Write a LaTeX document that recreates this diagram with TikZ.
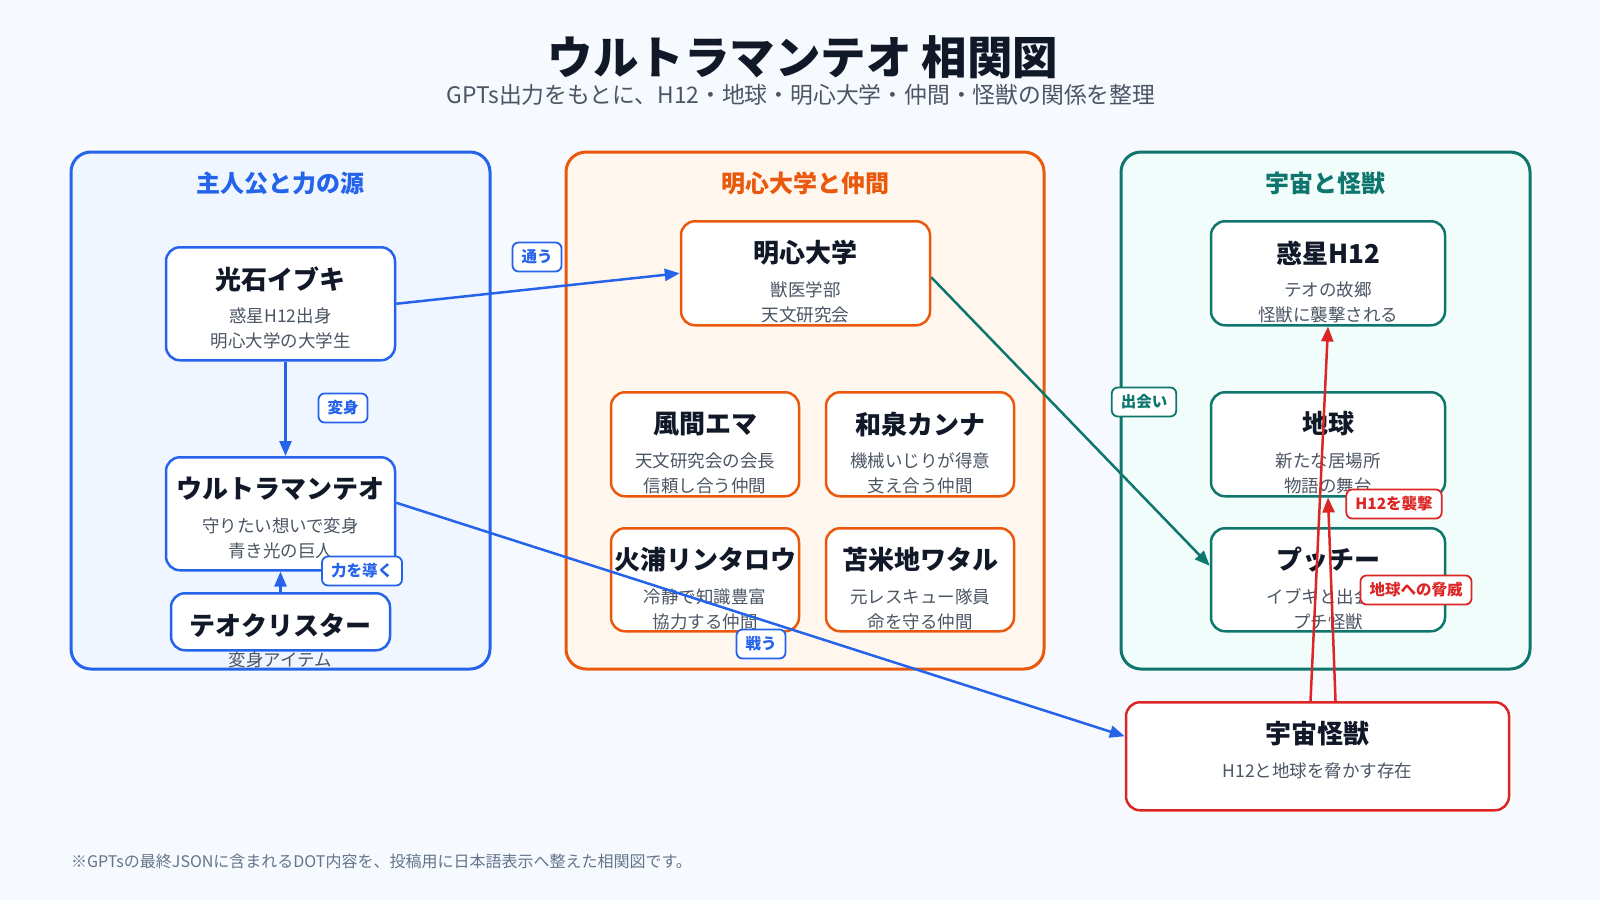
\documentclass[tikz,border=0pt]{standalone}
\usepackage{fontspec}
\setmainfont{Noto Sans CJK JP}
\usetikzlibrary{arrows.meta}
\definecolor{bgc}{HTML}{F6F9FD}
\definecolor{cblue}{HTML}{2563EB}
\definecolor{corange}{HTML}{EA580C}
\definecolor{cteal}{HTML}{0F766E}
\definecolor{cred}{HTML}{DC2626}
\definecolor{fblue}{HTML}{EFF6FF}
\definecolor{forange}{HTML}{FFF7ED}
\definecolor{fteal}{HTML}{F0FDFA}
\definecolor{tdark}{HTML}{111827}
\definecolor{tsub}{HTML}{4B5563}
\definecolor{tfoot}{HTML}{64748B}
\tikzset{
  clusterbox/.style={rounded corners=20pt, line width=3pt},
  ctitle/.style={font=\fontsize{24}{28}\selectfont\bfseries, inner sep=0pt},
  nbox/.style={rectangle, rounded corners=14pt, line width=2.5pt, fill=white, inner sep=0pt},
  ntitle/.style={font=\fontsize{26}{30}\selectfont\bfseries, text=tdark, inner sep=0pt},
  nsub/.style={font=\fontsize{17.5}{20}\selectfont, text=tsub, inner sep=0pt},
  edge/.style={line width=2.5pt, -{Triangle[length=15pt,width=12pt]}},
  elabel/.style={rectangle, rounded corners=6pt, line width=1.8pt, fill=white, font=\fontsize{15.5}{18}\selectfont\bfseries, inner xsep=9pt, minimum height=29pt, inner ysep=0pt},
}
% name, cx, top, w, h, colour, title, line1, line2
\newcommand{\charnode}[9]{%
  \node[nbox, draw=#6, minimum width=#4pt, minimum height=#5pt, anchor=north] (#1) at (#2,#3) {};
  \node[ntitle] (#1-t) at (#2,#3+33) {#7};
  \node[nsub] (#1-a) at (#2,#3+70) {#8};
  \node[nsub] (#1-b) at (#2,#3+95) {#9};
}
\begin{document}
\begin{tikzpicture}[x=1pt,y=-1pt]
\fill[bgc] (0,0) rectangle (1600,900);
\useasboundingbox (0,0) rectangle (1600,900);

\node[font=\fontsize{45.5}{50}\selectfont\bfseries, text=tdark, inner sep=0pt] (title) at (803,57) {ウルトラマンテオ 相関図};
\node[font=\fontsize{22.8}{26}\selectfont, text=tsub, inner sep=0pt] (subtitle) at (801,95) {GPTs出力をもとに、H12・地球・明心大学・仲間・怪獣の関係を整理};

% clusters
\draw[clusterbox, draw=cblue, fill=fblue] (71,152) rectangle (490,669);
\draw[clusterbox, draw=corange, fill=forange] (566,152) rectangle (1044,669);
\draw[clusterbox, draw=cteal, fill=fteal] (1121,152) rectangle (1530,669);
\node[ctitle, text=cblue] (c1) at (280.5,183) {主人公と力の源};
\node[ctitle, text=corange] (c2) at (805,183) {明心大学と仲間};
\node[ctitle, text=cteal] (c3) at (1325.5,183) {宇宙と怪獣};

% nodes
\charnode{ibuki}{280.5}{246}{229}{113}{cblue}{光石イブキ}{惑星H12出身}{明心大学の大学生}
\charnode{teo}{280.5}{456}{229}{113}{cblue}{ウルトラマンテオ}{守りたい想いで変身}{青き光の巨人}
\charnode{crystal}{280.5}{592}{219}{57}{cblue}{テオクリスター}{}{}
\node[nsub] (crystal-s) at (280.5,660) {変身アイテム};

\charnode{meishin}{805.5}{220}{249}{104}{corange}{明心大学}{獣医学部}{天文研究会}
\charnode{kazama}{705}{391}{188}{104}{corange}{風間エマ}{天文研究会の会長}{信頼し合う仲間}
\charnode{izumi}{920}{391}{188}{104}{corange}{和泉カンナ}{機械いじりが得意}{支え合う仲間}
\charnode{hiura}{705}{527}{188}{103}{corange}{火浦リンタロウ}{冷静で知識豊富}{協力する仲間}
\charnode{toma}{920}{527}{188}{103}{corange}{苫米地ワタル}{元レスキュー隊員}{命を守る仲間}

\charnode{h12}{1328}{220}{234}{104}{cteal}{惑星H12}{テオの故郷}{怪獣に襲撃される}
\charnode{earth}{1328}{391}{234}{104}{cteal}{地球}{新たな居場所}{物語の舞台}
\charnode{puchi}{1328}{527}{234}{103}{cteal}{プッチー}{イブキと出会う}{プチ怪獣}

\node[nbox, draw=cred, minimum width=383pt, minimum height=108pt, anchor=north] (kaiju) at (1317.5,701) {};
\node[ntitle] (kaiju-t) at (1317.5,734) {宇宙怪獣};
\node[nsub] (kaiju-a) at (1317.5,771) {H12と地球を脅かす存在};

% edges
\draw[edge, cblue] (ibuki.east) -- (meishin.west);
\draw[edge, cblue] ([xshift=5pt]ibuki.south) -- ([xshift=5pt]teo.north);
\draw[edge, cblue] (crystal.north) -- (teo.south);
\draw[edge, cblue] ([yshift=11pt]teo.east) -- ([yshift=20pt]kaiju.west);
\draw[edge, cteal] ([yshift=-4pt]meishin.east) -- ([yshift=14pt]puchi.west);
\draw[edge, cred] ([xshift=-7pt]kaiju.north) -- (h12.south);
\draw[edge, cred] ([xshift=18pt]kaiju.north) -- (earth.south);

% edge labels
\node[elabel, draw=cblue, text=cblue] (l1) at (537,257) {通う};
\node[elabel, draw=cblue, text=cblue] (l2) at (343,408) {変身};
\node[elabel, draw=cblue, text=cblue] (l3) at (362,571) {力を導く};
\node[elabel, draw=cblue, text=cblue] (l4) at (761,644) {戦う};
\node[elabel, draw=cteal, text=cteal] (l5) at (1144,402) {出会い};
\node[elabel, draw=cred, text=cred] (l6) at (1394,504) {H12を襲撃};
\node[elabel, draw=cred, text=cred] (l7) at (1416,590) {地球への脅威};

\node[font=\fontsize{16}{19}\selectfont, text=tfoot, inner sep=0pt, anchor=west] (foot) at (71,861) {※GPTsの最終JSONに含まれるDOT内容を、投稿用に日本語表示へ整えた相関図です。};
\end{tikzpicture}
\end{document}
